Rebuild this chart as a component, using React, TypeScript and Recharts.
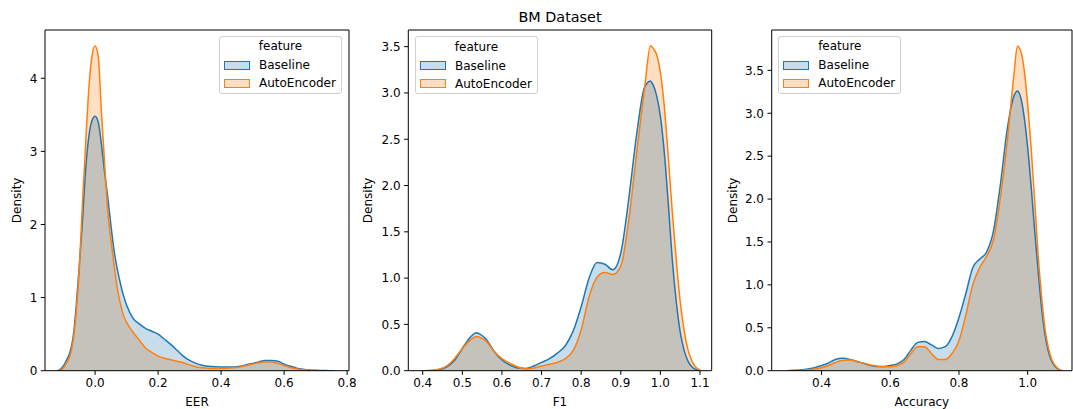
import { ComposedChart, Area, XAxis, YAxis, Legend } from 'recharts'

const seriesNames = ['Baseline', 'AutoEncoder']

// EER panel
const eerX = [
  -0.12, -0.11, -0.1, -0.09, -0.08, -0.07, -0.06, -0.05, -0.04, -0.03, -0.02, -0.01, 0, 0.01, 0.02, 0.03, 0.04, 0.05,
  0.06, 0.07, 0.08, 0.09, 0.1, 0.12, 0.14, 0.16, 0.18, 0.2, 0.22, 0.24, 0.26, 0.28, 0.3, 0.32, 0.34, 0.36, 0.38, 0.4,
  0.42, 0.44, 0.46, 0.48, 0.5, 0.52, 0.54, 0.56, 0.58, 0.6, 0.62, 0.64, 0.66, 0.68, 0.7, 0.72, 0.74, 0.76,
]
const eerBaseline = [
  0, 0.02, 0.07, 0.15, 0.25, 0.45, 0.88, 1.45, 2.05, 2.75, 3.2, 3.42, 3.48, 3.4, 3.1, 2.72, 2.38, 2.0, 1.65, 1.4, 1.2,
  1.03, 0.9, 0.72, 0.64, 0.58, 0.54, 0.5, 0.43, 0.36, 0.28, 0.2, 0.14, 0.1, 0.075, 0.06, 0.055, 0.05, 0.05, 0.05, 0.06,
  0.08, 0.1, 0.12, 0.14, 0.14, 0.13, 0.09, 0.06, 0.035, 0.02, 0.01, 0.005, 0.002, 0.001, 0,
]
const eerAutoEncoder = [
  null, 0, 0.04, 0.11, 0.2, 0.4, 0.8, 1.4, 2.3, 3.1, 3.85, 4.3, 4.44, 4.3, 3.55, 2.85, 2.2, 1.8, 1.45, 1.15, 0.92,
  0.76, 0.66, 0.53, 0.42, 0.31, 0.25, 0.2, 0.17, 0.15, 0.13, 0.11, 0.08, 0.055, 0.04, 0.035, 0.035, 0.035, 0.035, 0.04,
  0.05, 0.07, 0.09, 0.11, 0.12, 0.12, 0.1, 0.07, 0.045, 0.025, 0.012, 0.005, 0.002, 0, null, null,
]
const eerXTicks = [0, 0.2, 0.4, 0.6, 0.8]
const eerYTicks = [0, 1, 2, 3, 4]

// F1 panel
const f1X = [
  0.4, 0.42, 0.44, 0.46, 0.48, 0.5, 0.52, 0.535, 0.55, 0.56, 0.58, 0.6, 0.62, 0.64, 0.66, 0.68, 0.7, 0.72, 0.74, 0.76,
  0.78, 0.8, 0.82, 0.84, 0.86, 0.88, 0.9, 0.92, 0.94, 0.96, 0.975, 0.98, 0.99, 1.0, 1.01, 1.02, 1.03, 1.04, 1.05, 1.06,
  1.07, 1.08, 1.09, 1.1,
]
const f1Baseline = [
  0, 0.002, 0.01, 0.04, 0.11, 0.24, 0.36, 0.41, 0.38, 0.34, 0.21, 0.115, 0.06, 0.03, 0.025, 0.05, 0.09, 0.13, 0.19,
  0.27, 0.43, 0.69, 1.0, 1.17, 1.15, 1.09, 1.27, 1.85, 2.55, 3.06, 3.13, 3.1, 2.98, 2.75, 2.35, 1.8, 1.2, 0.75, 0.42,
  0.22, 0.1, 0.04, 0.012, 0,
]
const f1AutoEncoder = [
  0, 0.003, 0.015, 0.05, 0.13, 0.24, 0.33, 0.37, 0.35, 0.32, 0.21, 0.13, 0.08, 0.04, 0.02, 0.03, 0.05, 0.07, 0.09,
  0.13, 0.22, 0.44, 0.8, 1.01, 1.06, 1.04, 1.13, 1.62, 2.35, 3.05, 3.51, 3.49, 3.42, 3.22, 2.85, 2.3, 1.72, 1.2, 0.75,
  0.43, 0.22, 0.1, 0.035, 0.01,
]
const f1XTicks = [0.4, 0.5, 0.6, 0.7, 0.8, 0.9, 1.0, 1.1]
const f1YTicks = [0, 0.5, 1.0, 1.5, 2.0, 2.5, 3.0, 3.5]

// Accuracy panel
const accX = [
  0.3, 0.32, 0.34, 0.36, 0.38, 0.4, 0.42, 0.44, 0.46, 0.48, 0.5, 0.52, 0.54, 0.56, 0.58, 0.6, 0.62, 0.64, 0.66, 0.68,
  0.7, 0.72, 0.74, 0.76, 0.78, 0.8, 0.82, 0.84, 0.86, 0.88, 0.9, 0.92, 0.94, 0.96, 0.97, 0.98, 0.99, 1.0, 1.01, 1.02,
  1.03, 1.04, 1.05, 1.06, 1.07, 1.08, 1.09, 1.1,
]
const accBaseline = [
  0, 0.005, 0.01, 0.02, 0.035, 0.06, 0.09, 0.13, 0.145, 0.135, 0.11, 0.09, 0.065, 0.05, 0.05, 0.06, 0.08, 0.13, 0.24,
  0.33, 0.34, 0.3, 0.26, 0.28, 0.4, 0.62, 0.9, 1.2, 1.3, 1.38, 1.62, 2.15, 2.8, 3.2, 3.26, 3.18, 2.95, 2.6, 2.15, 1.65,
  1.18, 0.75, 0.43, 0.23, 0.11, 0.05, 0.015, 0,
]
const accAutoEncoder = [
  0, 0.002, 0.005, 0.01, 0.02, 0.035, 0.06, 0.095, 0.12, 0.125, 0.11, 0.09, 0.07, 0.055, 0.045, 0.045, 0.06, 0.1, 0.2,
  0.28, 0.28, 0.2, 0.13, 0.13, 0.2, 0.35, 0.65, 1.0, 1.2, 1.33, 1.52, 2.0, 2.65, 3.45, 3.78, 3.72, 3.5, 3.1, 2.6, 2.0,
  1.37, 0.88, 0.5, 0.27, 0.13, 0.06, 0.02, 0,
]
const accXTicks = [0.4, 0.6, 0.8, 1.0]
const accYTicks = [0, 0.5, 1.0, 1.5, 2.0, 2.5, 3.0, 3.5]

const BLUE = '#1f77b4'
const ORANGE = '#ff7f0e'
const OVERLAP = '#c4c2bb'
const FONT = '"DejaVu Sans", Verdana, sans-serif'
const HEIGHT = 409
const TOP = 29
const XAXIS_H = 38.3

function buildRows(xs: number[], base: (number | null)[], auto: (number | null)[]) {
  return xs.map((x, i) => ({
    x,
    base: base[i],
    auto: auto[i],
    both: Math.min(base[i] ?? 0, auto[i] ?? 0),
  }))
}

const fix1 = (v: number) => v.toFixed(1)
const plain = (v: number) => String(v)

const tickStyle = { fill: '#000', fontSize: 12, fontFamily: FONT }

function LegendBox() {
  const colors = [BLUE, ORANGE]
  return (
    <div
      style={{
        boxSizing: 'border-box',
        position: 'relative',
        width: 123,
        height: 58,
        border: '1px solid #d0d0d0',
        borderRadius: 3,
        background: 'rgba(255,255,255,0.8)',
        fontFamily: FONT,
        fontSize: 12,
        color: '#000',
      }}
    >
      <div style={{ position: 'absolute', left: 0, right: 0, top: 2.5, lineHeight: '14px', textAlign: 'center' }}>feature</div>
      {seriesNames.map((name, i) => (
        <div key={name}>
          <div
            style={{
              position: 'absolute',
              left: 3.5,
              top: 24 + i * 18,
              width: 26,
              height: 9,
              boxSizing: 'border-box',
              border: `1px solid ${colors[i]}`,
              background: i === 0 ? 'rgba(31,119,180,0.25)' : 'rgba(255,127,14,0.25)',
            }}
          />
          <div style={{ position: 'absolute', left: 39, top: 21.5 + i * 18, lineHeight: '14px', whiteSpace: 'nowrap' }}>
            {name}
          </div>
        </div>
      ))}
    </div>
  )
}

interface PanelProps {
  rows: ReturnType<typeof buildRows>
  left: number
  width: number
  yAxisWidth: number
  rightPad: number
  xDomain: [number, number]
  yDomain: [number, number]
  xTicks: number[]
  yTicks: number[]
  yFmt: (v: number) => string
  xLabel: string
  yLabelDist: number
  legendLeft: number
  legendTop: number
  title?: string
}

function Panel(p: PanelProps) {
  const yLabel = (props: any) => {
    const vb = props.viewBox
    const x = vb.x + vb.width - p.yLabelDist
    const y = vb.y + vb.height / 2
    return (
      <text
        x={x}
        y={y}
        transform={`rotate(-90, ${x}, ${y})`}
        textAnchor="middle"
        dominantBaseline="central"
        fontSize={12}
        fontFamily={FONT}
        fill="#000"
      >
        Density
      </text>
    )
  }
  const xLabel = (props: any) => {
    const vb = props.viewBox
    return (
      <text x={vb.x + vb.width / 2} y={vb.y + 35.5} textAnchor="middle" fontSize={12} fontFamily={FONT} fill="#000">
        {p.xLabel}
      </text>
    )
  }
  const titleLabel = (props: any) => {
    const vb = props.viewBox
    return (
      <text x={vb.x + vb.width / 2} y={vb.y - 6.5} textAnchor="middle" fontSize={14.4} fontFamily={FONT} fill="#000">
        {p.title}
      </text>
    )
  }
  const fillProps = { type: 'monotone' as const, isAnimationActive: false, dot: false, activeDot: false, stroke: 'none' }
  const lineProps = { type: 'monotone' as const, isAnimationActive: false, dot: false, activeDot: false, fill: 'none', strokeWidth: 1.5 }

  return (
    <div style={{ position: 'absolute', left: p.left, top: 0 }}>
      <ComposedChart
        width={p.width}
        height={HEIGHT}
        data={p.rows}
        margin={{ top: TOP, right: p.rightPad, bottom: 0, left: 0 }}
      >
        <XAxis
          dataKey="x"
          type="number"
          domain={p.xDomain}
          allowDataOverflow
          ticks={p.xTicks}
          tickFormatter={fix1}
          tick={tickStyle}
          tickSize={4.2}
          tickMargin={4}
          height={XAXIS_H}
          axisLine={{ stroke: '#000', strokeWidth: 1 }}
          tickLine={{ stroke: '#000', strokeWidth: 1 }}
          label={xLabel}
        />
        <XAxis
          xAxisId="top"
          orientation="top"
          dataKey="x"
          type="number"
          domain={p.xDomain}
          allowDataOverflow
          ticks={p.xTicks}
          height={1}
          tick={false}
          tickLine={false}
          axisLine={{ stroke: '#000', strokeWidth: 1 }}
          label={p.title ? titleLabel : undefined}
        />
        <YAxis
          type="number"
          domain={p.yDomain}
          allowDataOverflow
          ticks={p.yTicks}
          tickFormatter={p.yFmt}
          tick={tickStyle}
          tickSize={4.2}
          tickMargin={3.5}
          width={p.yAxisWidth}
          axisLine={{ stroke: '#000', strokeWidth: 1 }}
          tickLine={{ stroke: '#000', strokeWidth: 1 }}
          label={yLabel}
        />
        <YAxis
          yAxisId="right"
          orientation="right"
          type="number"
          domain={p.yDomain}
          allowDataOverflow
          ticks={p.yTicks}
          width={1}
          tick={false}
          tickLine={false}
          axisLine={{ stroke: '#000', strokeWidth: 1 }}
        />
        <Area {...fillProps} dataKey="base" name={seriesNames[0]} fill={BLUE} fillOpacity={0.25} />
        <Area {...fillProps} dataKey="auto" name={seriesNames[1]} fill={ORANGE} fillOpacity={0.25} />
        <Area {...fillProps} dataKey="both" fill={OVERLAP} fillOpacity={1} legendType="none" />
        <Area {...lineProps} dataKey="base" stroke={BLUE} legendType="none" />
        <Area {...lineProps} dataKey="auto" stroke={ORANGE} legendType="none" />
        <Legend
          layout="horizontal"
          verticalAlign="middle"
          align="center"
          content={() => <LegendBox />}
          wrapperStyle={{ left: p.legendLeft, top: p.legendTop, width: 'auto', height: 'auto' }}
        />
      </ComposedChart>
    </div>
  )
}

export default function App() {
  return (
    <div style={{ position: 'absolute', left: 0, top: 0, width: 1073, height: HEIGHT, background: '#fff' }}>
      <Panel
        rows={buildRows(eerX, eerBaseline, eerAutoEncoder)}
        left={0}
        width={361}
        yAxisWidth={45}
        rightPad={11}
        xDomain={[-0.159, 0.806]}
        yDomain={[0, 4.66]}
        xTicks={eerXTicks}
        yTicks={eerYTicks}
        yFmt={plain}
        xLabel="EER"
        yLabelDist={27.7}
        legendLeft={219}
        legendTop={35.7}
      />
      <Panel
        rows={buildRows(f1X, f1Baseline, f1AutoEncoder)}
        left={355}
        width={362.7}
        yAxisWidth={53.3}
        rightPad={5}
        xDomain={[0.3636, 1.1295]}
        yDomain={[0, 3.68]}
        xTicks={f1XTicks}
        yTicks={f1YTicks}
        yFmt={fix1}
        xLabel="F1"
        yLabelDist={40.3}
        legendLeft={60}
        legendTop={36}
        title="BM Dataset"
      />
      <Panel
        rows={buildRows(accX, accBaseline, accAutoEncoder)}
        left={718}
        width={355}
        yAxisWidth={53.7}
        rightPad={0}
        xDomain={[0.2548, 1.129]}
        yDomain={[0, 3.97]}
        xTicks={accXTicks}
        yTicks={accYTicks}
        yFmt={fix1}
        xLabel="Accuracy"
        yLabelDist={39}
        legendLeft={60.3}
        legendTop={35.7}
      />
    </div>
  )
}
